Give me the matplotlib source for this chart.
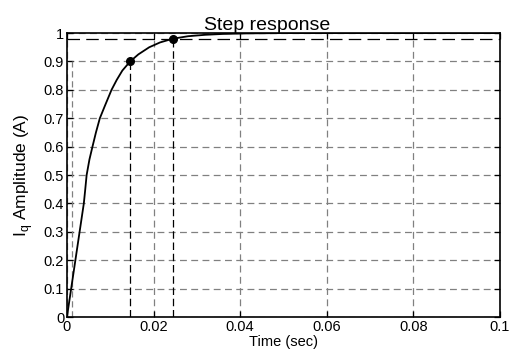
import matplotlib
matplotlib.use("Agg")
import matplotlib.pyplot as plt

# Step response data
t = [0.0, 0.0039, 0.0042, 0.00455, 0.0052, 0.0059, 0.0067, 0.0076, 0.0088,
     0.0103, 0.0115, 0.0128, 0.0146, 0.0165, 0.019, 0.0215, 0.0244, 0.028,
     0.032, 0.036, 0.042, 0.05, 0.06, 0.08, 0.1]
y = [0.0, 0.40, 0.445, 0.50, 0.555, 0.60, 0.65, 0.70, 0.745,
     0.80, 0.835, 0.868, 0.90, 0.925, 0.950, 0.967, 0.980, 0.989,
     0.994, 0.997, 0.999, 1.0, 1.0, 1.0, 1.0]

# characteristic points
rise_start_t = 0.0011
rise_end_t = 0.0146
rise_end_y = 0.9
settle_t = 0.0244
settle_y = 0.98

xticks = [0, 0.02, 0.04, 0.06, 0.08, 0.1]
xtick_labels = ["0", "0.02", "0.04", "0.06", "0.08", "0.1"]
yticks = [0, 0.1, 0.2, 0.3, 0.4, 0.5, 0.6, 0.7, 0.8, 0.9, 1.0]
ytick_labels = ["0", "0.1", "0.2", "0.3", "0.4", "0.5", "0.6", "0.7", "0.8", "0.9", "1"]

plt.rcParams['font.family'] = ['Liberation Sans', 'DejaVu Sans']

fig = plt.figure(figsize=(5.11, 3.52), dpi=100)
ax = fig.add_axes([0.131, 0.0994, 0.847, 0.8066])

ax.set_xlim(0, 0.1)
ax.set_ylim(0, 1)

ax.grid(True, color='#808080', linestyle=(0, (5.5, 3.5)), linewidth=0.9)
ax.set_axisbelow(True)

# characteristic reference lines
ax.plot([rise_start_t, rise_start_t], [0, rise_end_y], color='#808080',
        linestyle=(0, (5, 3)), linewidth=0.9)
ax.plot([rise_end_t, rise_end_t], [0, rise_end_y], color='black',
        linestyle=(0, (6, 3)), linewidth=0.9)
ax.plot([settle_t, settle_t], [0, settle_y], color='black',
        linestyle=(0, (6, 3)), linewidth=0.9)
ax.plot([0, 0.1], [settle_y, settle_y], color='black',
        linestyle=(0, (10, 5)), linewidth=0.9)

ax.plot(t, y, color='black', linewidth=1.3)
ax.plot([rise_end_t, settle_t], [rise_end_y, settle_y], 'o', color='black',
        markersize=5.5)

ax.set_xticks(xticks)
ax.set_xticklabels(xtick_labels)
ax.set_yticks(yticks)
ax.set_yticklabels(ytick_labels)
ax.tick_params(direction='in', length=4.5, width=0.9, top=True, right=True,
               labelsize=10.5, pad=2)

for s in ax.spines.values():
    s.set_linewidth(1.2)

ax.set_title("Step response", fontsize=14, pad=2, x=0.462)
ax.set_xlabel("Time (sec)", fontsize=10.5, labelpad=1)
ax.set_ylabel(r"I$_\mathregular{q}$ Amplitude (A)", fontsize=12.5, labelpad=6)

fig.savefig("out.png", dpi=100)
